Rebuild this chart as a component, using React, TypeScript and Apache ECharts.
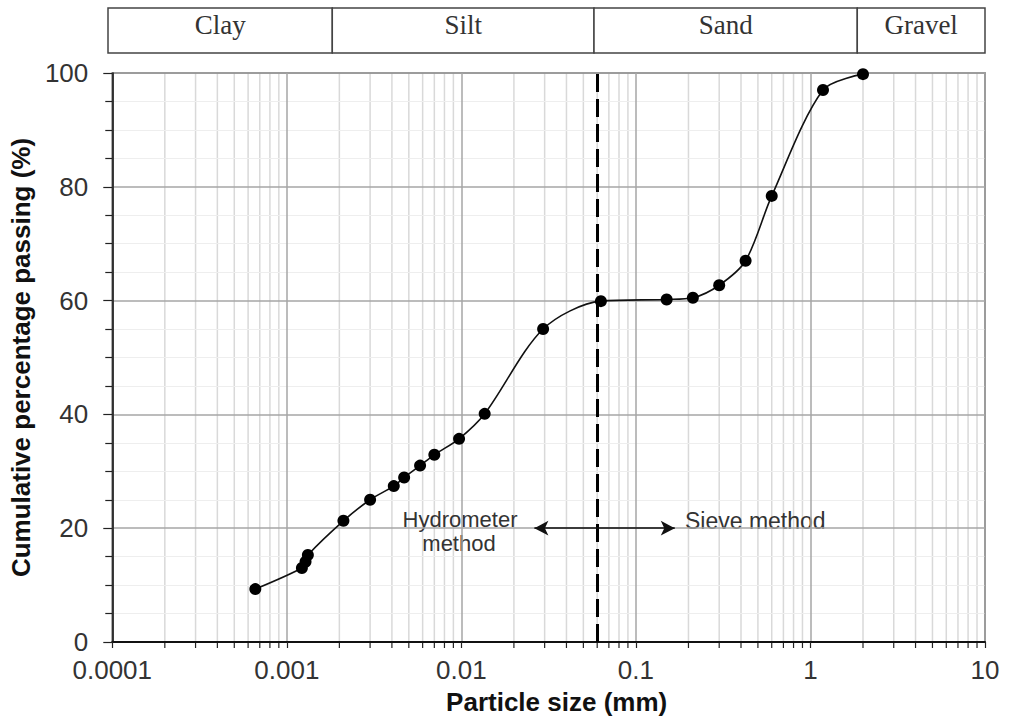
import React, { useEffect, useRef } from "react";
import * as echarts from "echarts";

// ---- Data ----
const particleSize = [
  0.00066, 0.00122, 0.00128, 0.00132, 0.00211, 0.003, 0.0041, 0.0047, 0.0058,
  0.007, 0.0097, 0.0136, 0.0294, 0.063, 0.15, 0.212, 0.3, 0.425, 0.6, 1.18, 2.0,
];
const percentPassing = [
  9.3, 13.0, 14.1, 15.3, 21.3, 25.0, 27.4, 28.9, 31.0, 32.9, 35.7, 40.1, 55.0,
  59.9, 60.2, 60.5, 62.7, 67.0, 78.4, 97.0, 99.8,
];
const xTickLabels = ["0.0001", "0.001", "0.01", "0.1", "1", "10"];
const bandNames = ["Clay", "Silt", "Sand", "Gravel"];
const bandEdges = [0.0001, 0.0019, 0.059, 1.87, 10];
const dividerSize = 0.0585;
const arrowFrom = 0.0262;
const arrowTo = 0.167;
const arrowLevel = 20;
const decades = [0.0001, 0.001, 0.01, 0.1, 1];
const minorMultipliers = [2, 3, 4, 5, 6, 7, 8, 9];

const minorValues: number[] = [];
decades.forEach((d) => minorMultipliers.forEach((m) => minorValues.push(d * m)));

const SANS = "'Liberation Sans', Arial, sans-serif";
const SERIF = "'Liberation Serif', 'Times New Roman', serif";

export default function App() {
  const ref = useRef<HTMLDivElement>(null);

  useEffect(() => {
    document.body.style.margin = "0";
    if (!ref.current) return;
    const chart = echarts.init(ref.current, undefined, { renderer: "svg" });

    const option: any = {
      animation: false,
      backgroundColor: "#ffffff",
      grid: [
        {
          left: 108,
          right: 24,
          top: 73,
          bottom: 82,
          show: true,
          borderColor: "#555",
          borderWidth: 1.5,
          backgroundColor: "transparent",
        },
        { left: 108, right: 24, top: 8, height: 45 },
      ],
      xAxis: [
        {
          type: "log",
          logBase: 10,
          min: 0.0001,
          max: 10,
          gridIndex: 0,
          name: "Particle size (mm)",
          nameLocation: "middle",
          nameGap: 47,
          nameTextStyle: {
            fontFamily: SANS,
            fontSize: 26,
            fontWeight: "bold",
            color: "#111",
            padding: [0, 0, 0, 16],
          },
          axisLine: { show: true, onZero: false, lineStyle: { color: "#111", width: 2 } },
          axisTick: { show: true, length: 6, lineStyle: { color: "#222", width: 1.2 } },
          axisLabel: {
            fontFamily: SANS,
            fontSize: 26,
            color: "#333",
            margin: 15,
            formatter: (v: number) => {
              const e = Math.round(Math.log10(v));
              return xTickLabels[e + 4] ?? "";
            },
          },
          splitLine: { show: true, lineStyle: { color: "#a6a6a6", width: 1.5 } },
        },
        {
          type: "log",
          logBase: 10,
          min: 0.0001,
          max: 10,
          gridIndex: 1,
          show: false,
        },
      ],
      yAxis: [
        {
          type: "value",
          min: 0,
          max: 100,
          interval: 20,
          gridIndex: 0,
          name: "Cumulative percentage passing (%)",
          nameLocation: "middle",
          nameGap: 62,
          nameTextStyle: {
            fontFamily: SANS,
            fontSize: 26,
            fontWeight: "bold",
            color: "#111",
          },
          axisLine: { show: true, lineStyle: { color: "#111", width: 1.5 } },
          axisTick: { show: true, length: 9, lineStyle: { color: "#222", width: 1.2 } },
          minorTick: { show: true, splitNumber: 4, length: 7, lineStyle: { color: "#222", width: 1.2 } },
          minorSplitLine: { show: true, lineStyle: { color: "#eeeeee", width: 1 } },
          axisLabel: { fontFamily: SANS, fontSize: 26, color: "#333", margin: 24 },
          splitLine: { show: true, lineStyle: { color: "#a6a6a6", width: 1.5 } },
        },
        { type: "value", min: 0, max: 1, gridIndex: 1, show: false },
      ],
      series: [
        {
          // minor vertical grid lines + minor x ticks
          type: "custom",
          xAxisIndex: 0,
          yAxisIndex: 0,
          clip: false,
          silent: true,
          z: -1,
          data: minorValues.map((v) => [v, 0]),
          encode: { x: 0, y: 1 },
          renderItem: (_params: any, api: any) => {
            const v = api.value(0);
            const top = api.coord([v, 100]);
            const bottom = api.coord([v, 0]);
            return {
              type: "group",
              children: [
                {
                  type: "line",
                  shape: { x1: top[0], y1: top[1], x2: bottom[0], y2: bottom[1] },
                  style: { stroke: "#d9d9d9", lineWidth: 1.5 },
                },
                {
                  type: "line",
                  shape: { x1: bottom[0], y1: bottom[1], x2: bottom[0], y2: bottom[1] + 6 },
                  style: { stroke: "#222", lineWidth: 1.2 },
                },
              ],
            };
          },
        },
        {
          // soil classification band
          type: "custom",
          xAxisIndex: 1,
          yAxisIndex: 1,
          clip: false,
          silent: true,
          data: bandNames.map((_n, i) => [bandEdges[i], bandEdges[i + 1]]),
          encode: { x: [0, 1] },
          renderItem: (params: any, api: any) => {
            const x0 = api.value(0);
            const x1 = api.value(1);
            const name = bandNames[params.dataIndex];
            const p0 = api.coord([x0, 1]);
            const p1 = api.coord([x1, 0]);
            return {
              type: "group",
              children: [
                {
                  type: "rect",
                  shape: { x: p0[0], y: p0[1], width: p1[0] - p0[0], height: p1[1] - p0[1] },
                  style: { fill: "#fff", stroke: "#444", lineWidth: 1.5 },
                },
                {
                  type: "text",
                  x: (p0[0] + p1[0]) / 2,
                  y: p0[1] + 3,
                  style: {
                    text: name,
                    fontFamily: SERIF,
                    fontSize: 27,
                    fill: "#333",
                    align: "center",
                    verticalAlign: "top",
                  },
                },
              ],
            };
          },
        },
        {
          // dashed separation line between hydrometer and sieve methods
          type: "line",
          xAxisIndex: 0,
          yAxisIndex: 0,
          data: [],
          silent: true,
          markLine: {
            silent: true,
            symbol: "none",
            label: { show: false },
            lineStyle: { color: "#000", width: 3, type: [18, 7] },
            data: [{ xAxis: dividerSize }],
          },
        },
        {
          // double-headed arrow
          type: "line",
          xAxisIndex: 0,
          yAxisIndex: 0,
          data: [],
          silent: true,
          markLine: {
            silent: true,
            symbol: ["arrow", "arrow"],
            symbolSize: [11, 14],
            label: { show: false },
            lineStyle: { color: "#111", width: 1.5, type: "solid" },
            data: [[{ coord: [arrowFrom, arrowLevel] }, { coord: [arrowTo, arrowLevel] }]],
          },
        },
        {
          type: "line",
          name: "Passing",
          xAxisIndex: 0,
          yAxisIndex: 0,
          z: 5,
          smooth: 0.3,
          symbol: "circle",
          symbolSize: 12,
          itemStyle: { color: "#000" },
          lineStyle: { color: "#111", width: 1.6 },
          data: particleSize.map((s, i) => [s, percentPassing[i]]),
        },
      ],
      graphic: [
        {
          type: "text",
          x: 460,
          y: 508,
          style: {
            text: "Hydrometer",
            fontFamily: SANS,
            fontSize: 22,
            fill: "#333",
            align: "center",
            verticalAlign: "top",
          },
        },
        {
          type: "text",
          x: 459,
          y: 532,
          style: {
            text: "method",
            fontFamily: SANS,
            fontSize: 22,
            fill: "#333",
            align: "center",
            verticalAlign: "top",
          },
        },
        {
          type: "text",
          x: 685,
          y: 521,
          style: {
            text: "Sieve method",
            fontFamily: SANS,
            fontSize: 23,
            fill: "#333",
            align: "left",
            verticalAlign: "middle",
          },
        },
      ],
    };

    chart.setOption(option);
    return () => chart.dispose();
  }, []);

  return <div ref={ref} style={{ width: 1009, height: 724 }} />;
}
